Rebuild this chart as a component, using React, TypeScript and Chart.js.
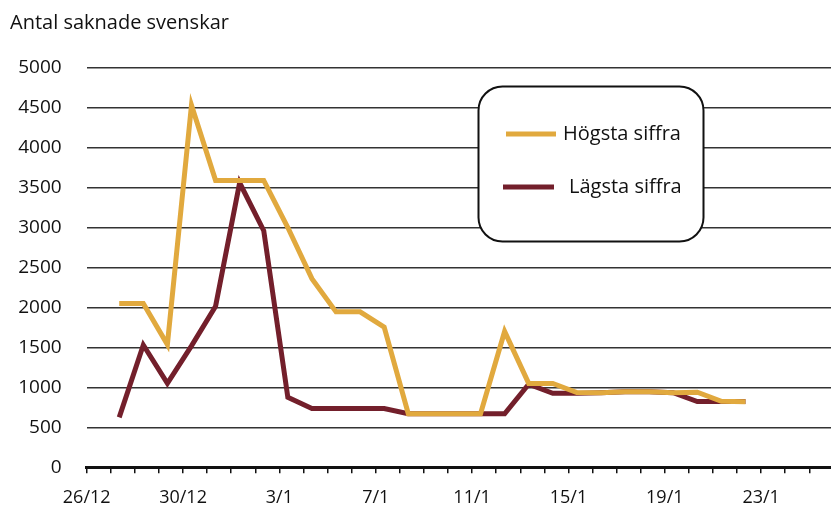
import React, { useEffect, useRef } from "react";
import { Chart, registerables } from "chart.js";

Chart.register(...registerables);

// Reporting days (one value per day, reported in the morning)
const dates = [
  "27/12", "28/12", "29/12", "30/12", "31/12", "1/1", "2/1", "3/1", "4/1",
  "5/1", "6/1", "7/1", "8/1", "9/1", "10/1", "11/1", "12/1", "13/1", "14/1",
  "15/1", "16/1", "17/1", "18/1", "19/1", "20/1", "21/1", "22/1",
];
// Days after 26/12 00:00 of the first report, and time-of-day fraction
const firstDay = 1;
const reportTimeOfDay = 0.35;

const hogsta = [
  2050, 2050, 1535, 4530, 3590, 3590, 3590, 3000, 2360, 1945, 1945, 1755,
  670, 670, 670, 670, 1700, 1050, 1050, 935, 934, 945, 945, 934, 940, 825, 820,
];
const lagsta = [
  625, 1530, 1050, 1520, 2015, 3560, 2960, 875, 735, 735, 735, 735,
  670, 670, 670, 670, 670, 1040, 925, 925, 934, 945, 945, 934, 822, 822, 822,
];

const xTickLabels = ["26/12", "30/12", "3/1", "7/1", "11/1", "15/1", "19/1", "23/1"];
const yTicks = [0, 500, 1000, 1500, 2000, 2500, 3000, 3500, 4000, 4500, 5000];

const title = "Antal saknade svenskar";
const seriesNames = ["Högsta siffra", "Lägsta siffra"];
const colors = ["#E1A93E", "#731F2B"];

const FONT = "'Open Sans', 'DejaVu Sans', sans-serif";

const titlePlugin = {
  id: "customTitle",
  afterDraw(chart: any) {
    const ctx = chart.ctx;
    ctx.save();
    ctx.fillStyle = "#111";
    ctx.font = `20px ${FONT}`;
    ctx.textAlign = "left";
    ctx.textBaseline = "alphabetic";
    ctx.fillText(title, 10, 28.5);
    ctx.restore();
  },
};

const legendPlugin = {
  id: "boxLegend",
  afterDraw(chart: any) {
    const ctx = chart.ctx;
    ctx.save();
    const bx = 478.5, by = 86.5, bw = 225, bh = 155, r = 24;
    ctx.beginPath();
    ctx.roundRect(bx, by, bw, bh, r);
    ctx.fillStyle = "#fff";
    ctx.fill();
    ctx.lineWidth = 2;
    ctx.strokeStyle = "#111";
    ctx.stroke();

    const items = [
      { y: 134, x0: 506, x1: 556, tx: 563 },
      { y: 187, x0: 503, x1: 554, tx: 569 },
    ];
    items.forEach((it, i) => {
      ctx.beginPath();
      ctx.moveTo(it.x0, it.y);
      ctx.lineTo(it.x1, it.y);
      ctx.lineWidth = 5;
      ctx.strokeStyle = colors[i];
      ctx.stroke();
      ctx.fillStyle = "#111";
      ctx.font = `20px ${FONT}`;
      ctx.textAlign = "left";
      ctx.textBaseline = "alphabetic";
      ctx.fillText(seriesNames[i], it.tx, it.y + 5.5);
    });
    ctx.restore();
  },
};

export default function App() {
  const ref = useRef<HTMLCanvasElement | null>(null);

  useEffect(() => {
    if (!ref.current) return;
    const mk = (vals: number[]) =>
      vals.map((v, i) => ({ x: firstDay + i + reportTimeOfDay, y: v }));

    const chart = new Chart(ref.current, {
      type: "line",
      data: {
        datasets: [
          {
            label: seriesNames[0],
            data: mk(hogsta),
            borderColor: colors[0],
            backgroundColor: colors[0],
            borderWidth: 5,
            pointRadius: 0,
            tension: 0,
            borderJoinStyle: "miter",
            borderCapStyle: "butt",
          },
          {
            label: seriesNames[1],
            data: mk(lagsta),
            borderColor: colors[1],
            backgroundColor: colors[1],
            borderWidth: 5,
            pointRadius: 0,
            tension: 0,
            borderJoinStyle: "miter",
            borderCapStyle: "butt",
          },
        ],
      },
      options: {
        responsive: false,
        animation: false,
        devicePixelRatio: 1,
        layout: { padding: { top: 67.7, left: 0, right: 0, bottom: 0 } },
        plugins: {
          legend: { display: false },
          title: { display: false },
          tooltip: { enabled: false },
        },
        scales: {
          x: {
            type: "linear",
            min: 0,
            max: 30.9,
            afterBuildTicks(scale: any) {
              scale.ticks = Array.from({ length: 31 }, (_, k) => ({ value: k }));
            },
            afterFit(scale: any) {
              scale.height = 506 - 467.3;
            },
            grid: {
              drawOnChartArea: false,
              drawTicks: true,
              tickLength: 6,
              color: "#111",
              lineWidth: 1.5,
            },
            border: { display: true, color: "#111", width: 3 },
            ticks: {
              autoSkip: false,
              maxRotation: 0,
              padding: 14,
              color: "#111",
              font: { family: FONT, size: 18 },
              callback: (v: any) => {
                const k = Math.round(Number(v));
                return k % 4 === 0 ? xTickLabels[k / 4] ?? "" : "";
              },
            },
          },
          y: {
            type: "linear",
            min: 0,
            max: 5000,
            afterBuildTicks(scale: any) {
              scale.ticks = yTicks.map((v) => ({ value: v }));
            },
            afterFit(scale: any) {
              scale.width = 86.7;
            },
            grid: {
              drawTicks: false,
              color: "#333",
              lineWidth: 1.5,
            },
            border: { display: false },
            ticks: {
              padding: 25,
              color: "#111",
              font: { family: FONT, size: 19 },
              callback: (v: any) => String(v),
            },
          },
        },
      },
      plugins: [titlePlugin, legendPlugin],
    } as any);
    return () => chart.destroy();
  }, []);

  return (
    <div style={{ position: "fixed", left: 0, top: 0, width: 831, height: 506, background: "#fff" }}>
      <canvas ref={ref} width={831} height={506} />
    </div>
  );
}
